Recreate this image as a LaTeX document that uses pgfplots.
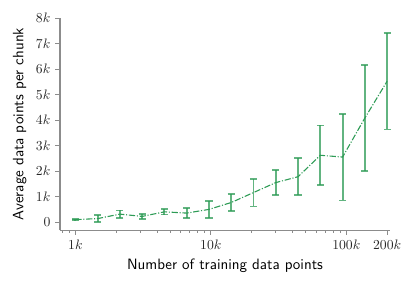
\documentclass[border=0pt]{standalone}
\usepackage{pgfplots}
\pgfplotsset{compat=1.18}
\definecolor{G}{RGB}{45,155,85}
\definecolor{axg}{RGB}{140,140,140}
\pgfplotstableread{
x y e
1000 100 30
1460 140 130
2132 315 145
3112 225 105
4544 405 105
6635 355 185
9687 500 330
14145 770 330
20652 1160 545
30153 1550 480
44024 1780 720
64276 2620 1170
93846 2550 1700
137021 4080 2090
200000 5520 1890
}\datatab
\begin{document}
\begin{tikzpicture}
\begin{axis}[
  at={(0pt,0pt)}, anchor=south west,
  width=241pt, height=155pt, scale only axis,
  xmode=log, xmin=770, xmax=210000, ymin=-314, ymax=8000,
  axis x line*=bottom, axis y line*=left,
  axis line style={axg, line width=0.8pt, -},
  tick align=outside,
  major tick length=3.5pt, minor tick length=2pt,
  tick style={axg, line width=0.6pt},
  xtick={1000,10000,100000,200000},
  xticklabels={$1k$,$10k$,$100k$,$200k$},
  minor xtick={800,900,2000,3000,4000,5000,6000,7000,8000,9000,20000,30000,40000,50000,60000,70000,80000,90000},
  ytick={0,1000,2000,3000,4000,5000,6000,7000,8000},
  yticklabels={$0$,$1k$,$2k$,$3k$,$4k$,$5k$,$6k$,$7k$,$8k$},
  ticklabel style={text=black!85},
  label style={font=\sffamily\fontsize{10.95}{13}\selectfont},
  xlabel={Number of training data points},
  ylabel={Average data points per chunk},
  clip=false,
]
\addplot[G, line width=0.8pt, dash pattern=on 4.5pt off 1.3pt on 0.8pt off 1.3pt, mark=none,
  error bars/.cd, y dir=both, y explicit,
  error bar style={G, solid, line width=1.4pt, opacity=0.75},
  error mark options={G, solid, line width=1.3pt, mark size=2.6pt, rotate=90}]
  table[x=x, y=y, y error=e] {\datatab};
\end{axis}
\pgfresetboundingbox
\useasboundingbox (-43.8pt,-42.3pt) rectangle (260pt,168.1pt);
\end{tikzpicture}
\end{document}
